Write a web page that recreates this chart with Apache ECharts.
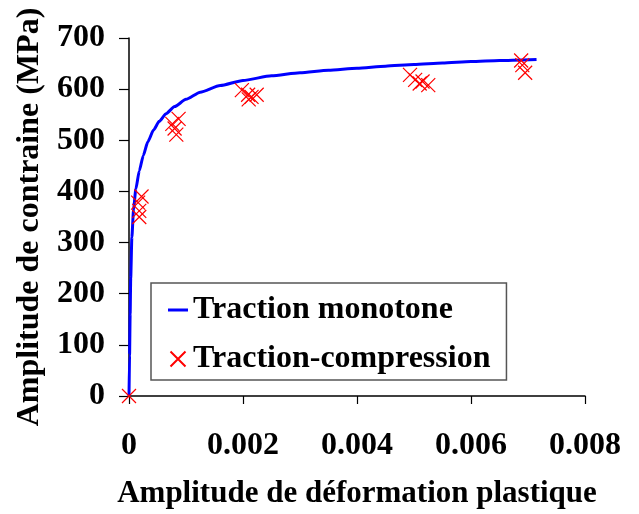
<!DOCTYPE html>
<html>
<head>
<meta charset="utf-8">
<script src="https://cdn.jsdelivr.net/npm/echarts@6/dist/echarts.min.js"></script>
<style>
	html, body { margin: 0; padding: 0; background: #fff; }
	#chart { width: 639px; height: 514px; }
</style>
</head>
<body>
<div id="chart"></div>
<script>
// monotonic tensile curve
var curveStrain = [0, 0.00001, 0.00002, 0.00003, 0.00005, 0.00008, 0.00012, 0.00018, 0.00025, 0.00033,
	0.00043, 0.00053, 0.00065, 0.0008, 0.001, 0.00125, 0.0016, 0.002, 0.0025, 0.003,
	0.0035, 0.004, 0.0045, 0.005, 0.0055, 0.006, 0.0065, 0.00715];
var curveStress = [0, 80, 160, 230, 310, 365, 405, 440, 470, 497,
	520, 537, 552, 566, 580, 594, 607, 617, 626, 632,
	637, 641, 645, 648, 651, 654, 656, 658];

// cyclic tests (traction-compression)
var pointStrain = [0, 0.00022, 0.00016, 0.00018, 0.00018,
	0.00087, 0.00076, 0.0008, 0.00083,
	0.00198, 0.00209, 0.00215, 0.00224, 0.0021,
	0.00493, 0.00502, 0.0051, 0.00515, 0.00525,
	0.00688, 0.0069, 0.00695];
var pointStress = [0, 390, 378, 362, 350,
	542, 532, 523, 511,
	598, 589, 585, 589, 580,
	628, 618, 611, 615, 608,
	656, 647, 632];

var xTickLabels = ['0', '0.002', '0.004', '0.006', '0.008'];

var seriesNames = ['Traction monotone', 'Traction-compression'];

function zip(a, b) {
	var out = [];
	for (var i = 0; i < a.length; i++) {
		out.push([a[i], b[i]]);
	}
	return out;
}

var font = 'Liberation Serif';
var crossPath = 'path://M0,0L10,10M10,0L0,10';
var chart = echarts.init(document.getElementById('chart'), null, {renderer: 'canvas'});

var option = {
	animation: false,
	backgroundColor: '#fff',
	grid: {left: 129, right: 54, top: 38, bottom: 118},
	legend: {
		orient: 'vertical',
		left: 151,
		top: 283,
		padding: [10, 16, 4, 17],
		itemGap: 15,
		itemWidth: 20,
		itemHeight: 15,
		backgroundColor: '#fff',
		borderColor: '#555',
		borderWidth: 1.5,
		borderRadius: 0,
		textStyle: {fontFamily: font, fontWeight: 'bold', fontSize: 32, color: '#000', lineHeight: 34},
		data: [
			{name: seriesNames[0], icon: 'path://M0,0H20V3H0Z'},
			{name: seriesNames[1]}
		]
	},
	xAxis: {
		type: 'value',
		min: 0,
		max: 0.008,
		interval: 0.002,
		name: 'Amplitude de déformation plastique',
		nameLocation: 'middle',
		nameGap: 82,
		nameTextStyle: {fontFamily: font, fontWeight: 'bold', fontSize: 31, color: '#000'},
		axisLine: {lineStyle: {color: '#000', width: 1.5}},
		axisTick: {show: true, length: 8, lineStyle: {color: '#000', width: 1.2}},
		splitLine: {show: false},
		axisLabel: {
			margin: 34,
			fontFamily: font, fontWeight: 'bold', fontSize: 32, color: '#000',
			formatter: function(v) {
				return xTickLabels[Math.round(v / 0.002)];
			}
		}
	},
	yAxis: {
		type: 'value',
		min: 0,
		max: 700,
		interval: 100,
		name: 'Amplitude de contraine (MPa)',
		nameLocation: 'middle',
		nameGap: 77,
		nameRotate: 90,
		nameTextStyle: {fontFamily: font, fontWeight: 'bold', fontSize: 32, color: '#000'},
		axisLine: {show: true, lineStyle: {color: '#000', width: 1.5}},
		axisTick: {show: true, length: 10, lineStyle: {color: '#000', width: 1.2}},
		splitLine: {show: false},
		axisLabel: {margin: 24, fontFamily: font, fontWeight: 'bold', fontSize: 32, color: '#000'}
	},
	series: [{
		name: seriesNames[0],
		type: 'line',
		data: zip(curveStrain, curveStress),
		symbol: 'none',
		smooth: 0.2,
		smoothMonotone: 'x',
		lineStyle: {color: '#0000ff', width: 3},
		itemStyle: {color: '#0000ff'},
		z: 2
	}, {
		name: seriesNames[1],
		type: 'scatter',
		data: zip(pointStrain, pointStress),
		symbol: crossPath,
		symbolSize: 14,
		clip: false,
		itemStyle: {color: 'rgba(0,0,0,0)', borderColor: '#ff0000', borderWidth: 1.2, opacity: 1},
		z: 3
	}]
};
chart.setOption(option);
</script>
</body>
</html>
